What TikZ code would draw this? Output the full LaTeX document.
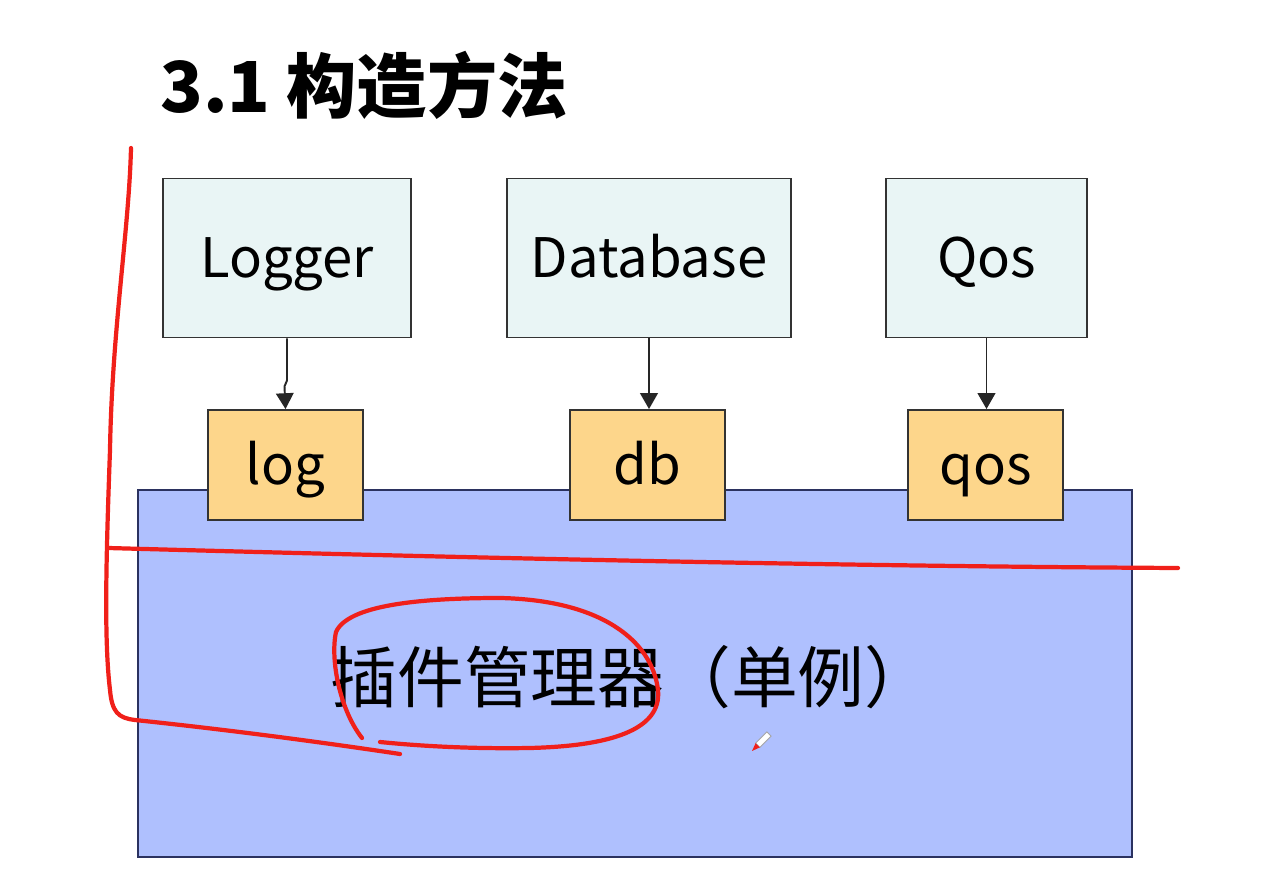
\documentclass[tikz,border=0pt]{standalone}
\usepackage{fontspec}
\setmainfont{Noto Sans CJK SC}
\usetikzlibrary{arrows.meta}
\definecolor{modfill}{HTML}{E9F5F5}
\definecolor{keyfill}{HTML}{FDD68B}
\definecolor{mgrfill}{HTML}{AFC0FE}
\definecolor{mgrline}{HTML}{2B3260}
\definecolor{pen}{HTML}{F0201A}
\tikzset{
  box/.style = {draw=black!80, line width=1.1pt, inner sep=0pt, align=center, text height=22.5pt, text depth=0pt},
  modnode/.style = {box, fill=modfill, minimum height=3.18cm, font=\fontsize{31}{36}\selectfont},
  keynode/.style = {box, fill=keyfill, minimum width=3.1cm, minimum height=2.2cm, font=\fontsize{31}{36}\selectfont},
  mgrnode/.style = {draw=mgrline, line width=1.1pt, fill=mgrfill, minimum width=19.88cm, minimum height=7.34cm},
  conn/.style = {draw=black!85, line width=1.1pt, -{Triangle[length=9pt,width=10pt]}},
  penline/.style = {pen, line width=2.4pt, line cap=round, line join=round},
}

\begin{document}
\begin{tikzpicture}[x=0.02cm, y=-0.02cm]
\useasboundingbox[fill=white] (0,0) rectangle (1275,884);
% title
\node[font=\fontsize{40}{48}\selectfont\bfseries] (title) at (364,85) {3.1 构造方法};
% plugin manager
\node[mgrnode] (mgr) at (635,673.5) {};
\node[font=\fontsize{38}{44}\selectfont] (mgrtext) at (631,677) {插件管理器（单例）};
% modules
\node[modnode, minimum width=4.96cm] (Logger) at (287,258) {Logger};
\node[modnode, minimum width=5.68cm] (Database) at (649,258) {Database};
\node[modnode, minimum width=4.02cm] (Qos) at (986.5,258) {Qos};
% keys
\node[keynode] (log) at (285.5,465) {log};
\node[keynode] (db) at (647.5,465) {db};
\node[keynode] (qos) at (985.5,465) {qos};
\draw[conn] (Logger.south) -- ++(0,42) -- ++(-2.5,6) -- (log.north);
\draw[conn] (Database.south) -- (Database.south |- db.north);
\draw[conn] (Qos.south) -- (Qos.south |- qos.north);
% pen strokes
\draw[penline] (131,148) .. controls (129,230) and (112,330) .. (110,450)
  .. controls (106,560) and (104,640) .. (110,690)
  .. controls (112,712) and (118,718) .. (135,720)
  .. controls (230,730) and (320,742) .. (400,754);
\draw[penline] (108,548) .. controls (400,556) and (800,566) .. (1178,568);
\draw[penline] (362,738) .. controls (340,710) and (330,660) .. (336,632)
  .. controls (348,605) and (420,598) .. (500,598)
  .. controls (600,600) and (652,640) .. (658,690)
  .. controls (662,730) and (610,746) .. (530,748)
  .. controls (470,749) and (420,746) .. (380,742);
% cursor
\filldraw[fill=white, draw=gray!70, line width=0.5pt] (759.8,747.4) -- (755.6,743.2) -- (766.9,731.9) -- (771.1,736.1) -- cycle;
\fill[pen] (752,751) -- (759.8,747.4) -- (755.6,743.2) -- cycle;
\end{tikzpicture}
\end{document}
